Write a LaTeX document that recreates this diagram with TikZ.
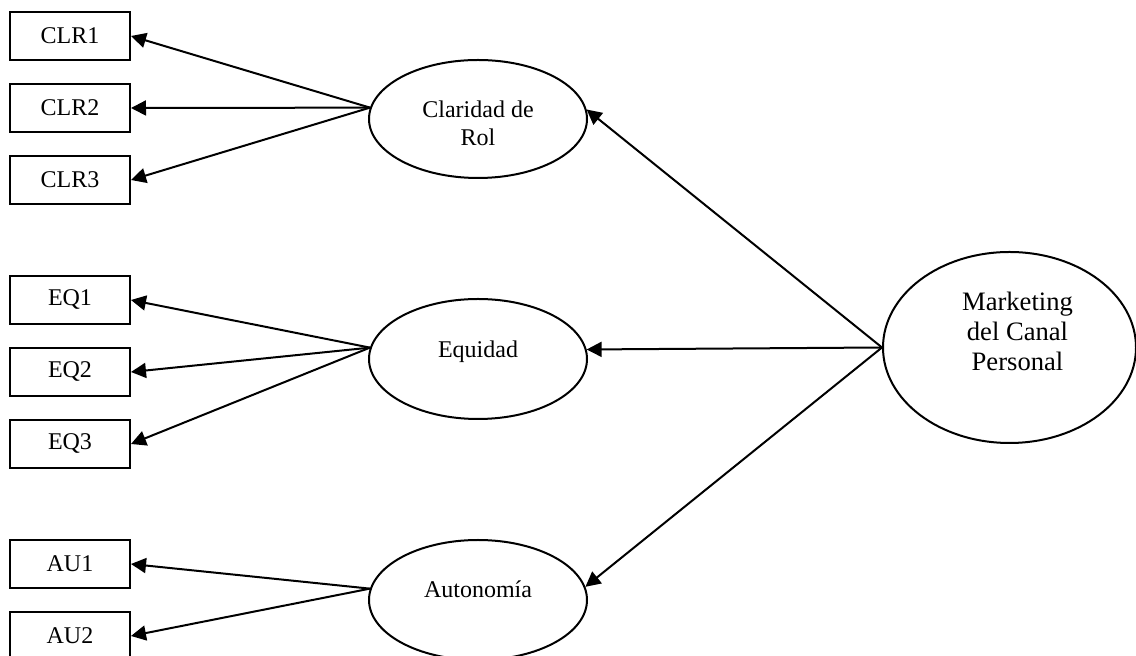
\documentclass[tikz,border=0pt]{standalone}
\usepackage{fontspec}
\setmainfont{Liberation Serif}
\usetikzlibrary{arrows.meta,shapes.geometric}

\tikzset{
  indicator/.style={draw, line width=1pt, rectangle, minimum width=60pt,
    minimum height=24pt, inner sep=0pt, font=\fontsize{12}{14}\selectfont},
  latent/.style={draw, line width=1pt, ellipse, inner sep=0pt,
    minimum width=109pt, minimum height=60pt},
  ltext/.style={align=center, font=\fontsize{12}{14}\selectfont},
  load/.style={line width=1pt, -{Triangle[length=7.5pt,width=7.5pt]}},
}

\begin{document}
\begin{tikzpicture}[x=0.5pt, y=-0.5pt]
  \useasboundingbox (0,0) rectangle (1136,656);

  % indicator boxes
  \node[indicator] (clr1) at (70,36)  {CLR1};
  \node[indicator] (clr2) at (70,108) {CLR2};
  \node[indicator] (clr3) at (70,180) {CLR3};
  \node[indicator] (eq1)  at (70,300) {EQ1};
  \node[indicator] (eq2)  at (70,372) {EQ2};
  \node[indicator] (eq3)  at (70,444) {EQ3};
  \node[indicator] (au1)  at (70,564) {AU1};
  \node[indicator] (au2)  at (70,636) {AU2};

  % first-order constructs
  \node[latent, minimum height=59pt,
        label={[name=clt, ltext, yshift=-2pt]center:Claridad de\\Rol}]
        (cl) at (478,119) {};
  \node[latent, label={[name=eqt, ltext, yshift=3.5pt]center:Equidad}]
        (eq) at (478,359) {};
  \node[latent, label={[name=aut, ltext, yshift=5.5pt]center:Autonomía}]
        (au) at (478,600) {};

  % second-order construct
  \node[latent, minimum width=126.5pt, minimum height=95.5pt,
        label={[name=mkt, ltext, yshift=8pt, xshift=4pt,
                font=\fontsize{13.3}{15.2}\selectfont]center:Marketing\\del Canal\\Personal}]
        (mk) at (1009.5,347.5) {};

  % loadings
  \draw[load] (cl.174) -- (clr1.east);
  \draw[load] (cl.174) -- (clr2.east);
  \draw[load] (cl.174) -- (clr3.east);
  \draw[load] (eq.174) -- (eq1.east);
  \draw[load] (eq.174) -- (eq2.east);
  \draw[load] (eq.174) -- (eq3.east);
  \draw[load] (au.174) -- (au1.east);
  \draw[load] (au.174) -- (au2.east);

  % second-order paths
  \draw[load] (mk.west) -- (cl.5);
  \draw[load] (mk.west) -- (eq.5);
  \draw[load] (mk.west) -- (au.7);
\end{tikzpicture}
\end{document}
